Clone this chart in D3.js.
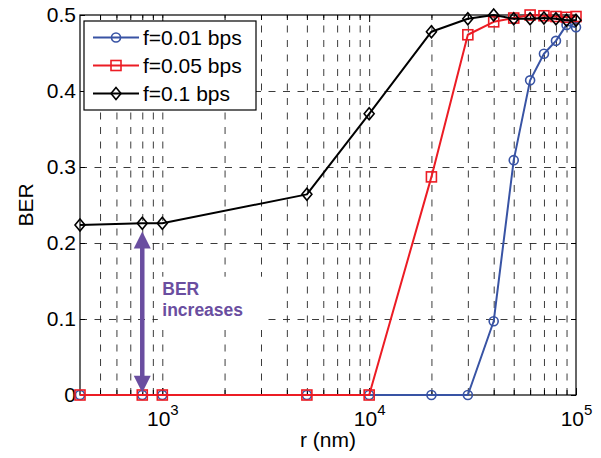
<!DOCTYPE html>
<html>
<head>
<meta charset="utf-8">
<script src="https://cdn.jsdelivr.net/npm/d3@7"></script>
<style>
  html, body { margin: 0; padding: 0; background: #fff; }
  svg { display: block; font-family: "Liberation Sans", Arial, Helvetica, sans-serif; }
</style>
</head>
<body>
<svg id="chart" width="601" height="458"></svg>
<script>
// Distance r (nm) at which BER was evaluated
const distances = [400, 800, 1000, 5000, 10000, 20000, 30000, 40000, 50000, 60000, 70000, 80000, 90000, 100000];
// BER for each transmission rate
const berF001 = [0, 0, 0, 0, 0, 0, 0, 0.097, 0.309, 0.414, 0.449, 0.466, 0.487, 0.484];
const berF005 = [0, 0, 0, 0, 0, 0.287, 0.474, 0.491, 0.496, 0.500, 0.499, 0.498, 0.497, 0.498];
const berF01  = [0.2237, 0.226, 0.226, 0.264, 0.370, 0.478, 0.495, 0.500, 0.495, 0.495, 0.496, 0.495, 0.493, 0.493];

const seriesNames  = ["f=0.01 bps", "f=0.05 bps", "f=0.1 bps"];
const seriesColors = ["#3853a4", "#ec1c24", "#000000"];
const seriesMarkers = ["circle", "square", "diamond"];

const yTicks = [0, 0.1, 0.2, 0.3, 0.4, 0.5];
const yTickLabels = ["0", "0.1", "0.2", "0.3", "0.4", "0.5"];
const xMajorTicks = [1e3, 1e4, 1e5];
const xMajorExponents = ["3", "4", "5"];
const xMinorTicks = [500, 600, 700, 800, 900,
                     2000, 3000, 4000, 5000, 6000, 7000, 8000, 9000,
                     20000, 30000, 40000, 50000, 60000, 70000, 80000, 90000];
const xDomain = [400, 1e5];
const yDomain = [0, 0.5];

const xLabel = "r (nm)";
const yLabel = "BER";

// Annotation: double arrow at r = 800 nm and its caption
const arrowDistance = 800;
const arrowFrom = 0.215;
const arrowTo = 0.003;
const noteLines = ["BER", "increases"];
const noteDistance = 1000;
const noteBer = 0.132;
const noteColor = "#6a4ea0";

// ---------------------------------------------------------------
const width = 601, height = 458;
const margin = { top: 15, right: 25, bottom: 63, left: 80 };
const innerW = width - margin.left - margin.right;
const innerH = height - margin.top - margin.bottom;

const svg = d3.select("#chart");
svg.append("rect").attr("width", width).attr("height", height).attr("fill", "#fff");

const g = svg.append("g").attr("transform", `translate(${margin.left},${margin.top})`);

const x = d3.scaleLog().domain(xDomain).range([0, innerW]);
const y = d3.scaleLinear().domain(yDomain).range([innerH, 0]);

const gridDash = "7,7.5";

// Vertical grid (major + minor decades), dashed
const xGridVals = xMinorTicks.concat(xMajorTicks).filter(v => v > xDomain[0] && v < xDomain[1]);
const xGrid = g.append("g").attr("transform", `translate(0,${innerH})`)
  .call(d3.axisBottom(x).tickValues(xGridVals).tickSize(-innerH).tickFormat(""));
xGrid.select(".domain").remove();
xGrid.selectAll("line").attr("stroke", "#262626").attr("stroke-width", 0.9).attr("stroke-dasharray", gridDash);

// Horizontal grid
const yGridVals = yTicks.filter(v => v > yDomain[0] && v < yDomain[1]);
const yGrid = g.append("g")
  .call(d3.axisLeft(y).tickValues(yGridVals).tickSize(-innerW).tickFormat(""));
yGrid.select(".domain").remove();
yGrid.selectAll("line").attr("stroke", "#262626").attr("stroke-width", 0.9).attr("stroke-dasharray", gridDash);

// White backing box for the annotation caption
const noteX = x(noteDistance);
const noteY = y(noteBer);
g.append("rect")
  .attr("x", noteX - 4.5).attr("y", noteY - 18)
  .attr("width", 108).attr("height", 50)
  .attr("fill", "#fff");

// Axes with inward ticks on all four sides
const tickLen = 5;
function styleAxis(sel) {
  sel.select(".domain").remove();
  sel.selectAll(".tick line").attr("stroke", "#000").attr("stroke-width", 1);
}

const yLeft = g.append("g")
  .call(d3.axisLeft(y).tickValues(yTicks).tickSizeInner(-tickLen).tickSizeOuter(0).tickPadding(4)
    .tickFormat((d, i) => yTickLabels[i]));
styleAxis(yLeft);
yLeft.selectAll("text").attr("font-size", 21).attr("fill", "#000")
  .attr("font-family", "'Liberation Sans', Arial, sans-serif");

const yRight = g.append("g").attr("transform", `translate(${innerW},0)`)
  .call(d3.axisRight(y).tickValues(yTicks).tickSizeInner(-tickLen).tickSizeOuter(0).tickFormat(""));
styleAxis(yRight);

const xBottomMinor = g.append("g").attr("transform", `translate(0,${innerH})`)
  .call(d3.axisBottom(x).tickValues(xMinorTicks).tickSizeInner(-tickLen).tickSizeOuter(0).tickFormat(""));
styleAxis(xBottomMinor);
const xTopMinor = g.append("g")
  .call(d3.axisTop(x).tickValues(xMinorTicks).tickSizeInner(-tickLen).tickSizeOuter(0).tickFormat(""));
styleAxis(xTopMinor);
const xTopMajor = g.append("g")
  .call(d3.axisTop(x).tickValues(xMajorTicks).tickSizeInner(-tickLen - 2).tickSizeOuter(0).tickFormat(""));
styleAxis(xTopMajor);

const xBottom = g.append("g").attr("transform", `translate(0,${innerH})`)
  .call(d3.axisBottom(x).tickValues(xMajorTicks).tickSizeInner(-tickLen - 2).tickSizeOuter(0).tickPadding(16)
    .tickFormat(() => ""));
styleAxis(xBottom);
// Power-of-ten labels: "10" with a raised exponent
xBottom.selectAll(".tick text").each(function (d, i) {
  const t = d3.select(this).attr("font-size", 21).attr("fill", "#000")
    .attr("font-family", "'Liberation Sans', Arial, sans-serif");
  t.text(null);
  t.append("tspan").text("10");
  t.append("tspan").attr("dy", -11).attr("font-size", 15).text(xMajorExponents[i]);
});

// Frame
g.append("rect").attr("width", innerW).attr("height", innerH)
  .attr("fill", "none").attr("stroke", "#000").attr("stroke-width", 1.2);

// Axis titles
svg.append("text")
  .attr("x", margin.left + innerW / 2).attr("y", 447)
  .attr("text-anchor", "middle").attr("font-size", 21).text(xLabel);
svg.append("text")
  .attr("transform", `translate(33,${margin.top + innerH / 2}) rotate(-90)`)
  .attr("text-anchor", "middle").attr("font-size", 21).text(yLabel);

// Marker shapes
function drawMarker(sel, kind, color) {
  if (kind === "circle") {
    sel.append("circle").attr("r", 4.5);
  } else if (kind === "square") {
    sel.append("rect").attr("x", -5).attr("y", -5).attr("width", 10).attr("height", 10);
  } else {
    sel.append("path").attr("d", "M0,-6L5,0L0,6L-5,0Z");
  }
  sel.selectAll("circle,rect,path").attr("fill", "none").attr("stroke", color).attr("stroke-width", 1.6);
}

const seriesValues = [berF001, berF005, berF01];
const line = d3.line().x(d => x(d.r)).y(d => y(d.v));

seriesValues.forEach((vals, si) => {
  const pts = distances.map((r, i) => ({ r, v: vals[i] }));
  const sg = g.append("g");
  sg.append("path").datum(pts).attr("d", line)
    .attr("fill", "none").attr("stroke", seriesColors[si]).attr("stroke-width", 2)
    .attr("stroke-linejoin", "round");
  sg.selectAll("g.mk").data(pts).join("g").attr("class", "mk")
    .attr("transform", d => `translate(${x(d.r)},${y(d.v)})`)
    .each(function () { drawMarker(d3.select(this), seriesMarkers[si], seriesColors[si]); });
});

// Double-headed arrow
const ax = x(arrowDistance);
const aTop = y(arrowFrom), aBot = y(arrowTo);
const headH = 17, headW = 8.5;
g.append("line")
  .attr("x1", ax).attr("x2", ax).attr("y1", aTop + headH - 2).attr("y2", aBot - headH + 2)
  .attr("stroke", noteColor).attr("stroke-width", 4.5);
g.append("path")
  .attr("d", `M${ax},${aTop}L${ax + headW},${aTop + headH}L${ax - headW},${aTop + headH}Z`)
  .attr("fill", noteColor);
g.append("path")
  .attr("d", `M${ax},${aBot}L${ax + headW},${aBot - headH}L${ax - headW},${aBot - headH}Z`)
  .attr("fill", noteColor);

// Caption
const note = g.append("text").attr("font-size", 17.5).attr("font-weight", "bold").attr("fill", noteColor);
noteLines.forEach((s, i) => {
  note.append("tspan").attr("x", noteX).attr("y", noteY + i * 21.7).text(s);
});

// Legend
const lg = svg.append("g");
lg.append("rect").attr("x", 84).attr("y", 21).attr("width", 172).attr("height", 89)
  .attr("fill", "#fff").attr("stroke", "#000").attr("stroke-width", 1.2);
seriesNames.forEach((name, i) => {
  const cy = 37.5 + i * 28;
  lg.append("line").attr("x1", 93).attr("x2", 139).attr("y1", cy).attr("y2", cy)
    .attr("stroke", seriesColors[i]).attr("stroke-width", 2);
  const m = lg.append("g").attr("transform", `translate(116,${cy})`);
  drawMarker(m, seriesMarkers[i], seriesColors[i]);
  lg.append("text").attr("x", 143).attr("y", cy + 7.5).attr("font-size", 21).text(name);
});
</script>
</body>
</html>
